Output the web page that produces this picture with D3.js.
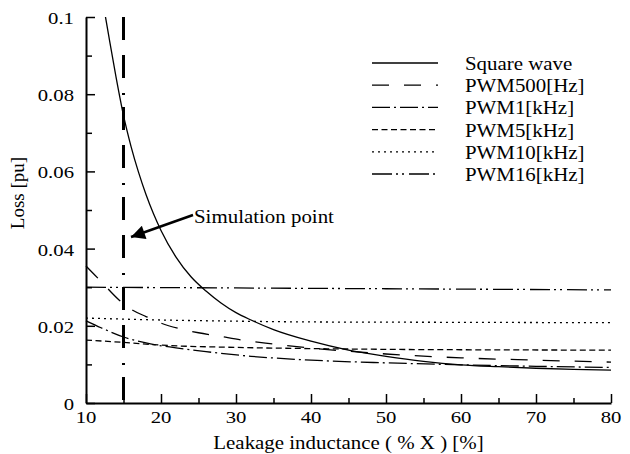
<!DOCTYPE html>
<meta charset="utf-8">
<html>
<head>
<title>Loss vs leakage inductance</title>
<style>
  body { margin: 0; background: #fff; }
</style>
</head>
<body>
<div id="chart"></div>
<script src="https://d3js.org/d3.v7.min.js"></script>
<script>

// data: [leakage inductance %, loss pu]
var squareWave = [[12.6,0.100],[13,0.0955],[14,0.0845],[15,0.0745],[16,0.0665],[17,0.0598],[18,0.0540],
  [19,0.0490],[20,0.0447],[22,0.0378],[24,0.0327],[26,0.0290],[28,0.0259],[30,0.0234],[32,0.0215],[35,0.0190],
  [40,0.0160],[45,0.0137],[50,0.0121],[55,0.0108],[60,0.0099],[65,0.0094],[70,0.0090],[75,0.0087],[80,0.0085]];
var pwm500 = [[10,0.0355],[12,0.0315],[14.4,0.0267],[16,0.0243],[18,0.0224],[20,0.0207],[22.6,0.0192],
  [25,0.0182],[27.5,0.0174],[31.5,0.0161],[35,0.0153],[40,0.0142],[45,0.0134],[50,0.0127],[60,0.0117],
  [70,0.0111],[80,0.0106]];
var pwm1k = [[10,0.0213],[12,0.0195],[15,0.0171],[18.6,0.0153],[22,0.0143],[26,0.0133],[32,0.0121],
  [40,0.0111],[50,0.0104],[60,0.0099],[70,0.0095],[80,0.0092]];
var pwm5k = [[10,0.0163],[15,0.0157],[20,0.0150],[30,0.0144],[40,0.0141],[50,0.0139],[60,0.0138],[80,0.0137]];
var pwm10k = [[10,0.0220],[20,0.0215],[30,0.0212],[40,0.0210],[60,0.0209],[80,0.0208]];
var pwm16k = [[10,0.0300],[30,0.0298],[50,0.0296],[80,0.0293]];

var seriesNames = ["Square wave", "PWM500[Hz]", "PWM1[kHz]", "PWM5[kHz]", "PWM10[kHz]", "PWM16[kHz]"];
var seriesData = [squareWave, pwm500, pwm1k, pwm5k, pwm10k, pwm16k];
var dashes = [null, "17,15", "18,4,2,4", "6,3.5", "2,4", "20,4,2,4,2,5"];

var xTicks = [10, 20, 30, 40, 50, 60, 70, 80];
var yTicks = [0, 0.02, 0.04, 0.06, 0.08, 0.1];
var yTickLabels = ["0", "0.02", "0.04", "0.06", "0.08", "0.1"];
var simPoint = 15;

var font = "Liberation Serif";

var margin = {top: 17, right: 19, bottom: 51, left: 86},
    width = 630 - margin.left - margin.right,
    height = 454 - margin.top - margin.bottom;

var svg = d3.select("#chart")
  .append("svg")
    .attr("width", 630)
    .attr("height", 454)
  .append("g")
    .attr("transform", "translate(" + margin.left + "," + margin.top + ")");

var x = d3.scaleLinear().domain([10, 80]).range([0, width]);
var y = d3.scaleLinear().domain([0, 0.1]).range([height, 0]);

// minor ticks
svg.append("g")
  .attr("transform", "translate(0," + height + ")")
  .call(d3.axisBottom(x).tickValues(d3.range(15, 80, 10)).tickSize(-5).tickFormat(""))
  .call(function(g) { g.select(".domain").remove(); });
svg.append("g")
  .call(d3.axisLeft(y).tickValues(d3.range(0.01, 0.1, 0.02)).tickSize(-6).tickFormat(""))
  .call(function(g) { g.select(".domain").remove(); });

// major ticks + axis lines
svg.append("g")
  .attr("transform", "translate(0," + height + ")")
  .call(d3.axisBottom(x).tickValues(xTicks).tickSizeInner(-9).tickSizeOuter(0).tickFormat(""));
svg.append("g")
  .call(d3.axisLeft(y).tickValues(yTicks).tickSizeInner(-9).tickSizeOuter(0).tickFormat(""));
svg.selectAll(".domain").attr("stroke-width", 2);
svg.selectAll(".tick line").attr("stroke-width", 1.5);

// tick labels (glyphs in the picture are a bit wide)
svg.append("g").selectAll("text")
  .data(xTicks)
  .enter().append("text")
    .attr("transform", function(d) { return "translate(" + x(d) + "," + (height + 20) + ") scale(1.22,1)"; })
    .attr("text-anchor", "middle")
    .attr("font-family", font)
    .attr("font-size", 17)
    .text(function(d) { return d; });

svg.append("g").selectAll("text")
  .data(yTicks)
  .enter().append("text")
    .attr("transform", function(d) { return "translate(-12," + (y(d) + 7) + ") scale(1.22,1)"; })
    .attr("text-anchor", "end")
    .attr("font-family", font)
    .attr("font-size", 17)
    .text(function(d, i) { return yTickLabels[i]; });

// axis titles
svg.append("text")
  .attr("transform", "translate(" + (width / 2) + "," + (height + 46) + ") scale(1.1,1)")
  .attr("text-anchor", "middle")
  .attr("font-family", font)
  .attr("font-size", 19)
  .text("Leakage inductance ( % X ) [%]");

svg.append("text")
  .attr("transform", "translate(-62," + (height / 2 - 17) + ") rotate(-90)")
  .attr("text-anchor", "middle")
  .attr("font-family", font)
  .attr("font-size", 19)
  .text("Loss [pu]");

// curves
var line = d3.line()
  .x(function(d) { return x(d[0]); })
  .y(function(d) { return y(d[1]); })
  .curve(d3.curveMonotoneX);

svg.append("g").selectAll("path")
  .data(seriesData)
  .enter().append("path")
    .attr("d", line)
    .attr("fill", "none")
    .attr("stroke", "black")
    .attr("stroke-width", 1.3)
    .attr("stroke-dasharray", function(d, i) { return dashes[i]; });

// simulation point marker
svg.append("line")
  .attr("x1", x(simPoint)).attr("x2", x(simPoint))
  .attr("y1", y(0.1)).attr("y2", y(0))
  .attr("stroke", "black")
  .attr("stroke-width", 3)
  .attr("stroke-dasharray", "23,15,23,15,2,12");

svg.append("defs").append("marker")
  .attr("id", "head")
  .attr("viewBox", "0 0 10 10")
  .attr("refX", 10).attr("refY", 5)
  .attr("markerWidth", 7.2).attr("markerHeight", 5.6)
  .attr("markerUnits", "strokeWidth")
  .attr("orient", "auto")
  .append("path")
    .attr("d", "M0,0L10,5L0,10z")
    .attr("fill", "black");

svg.append("line")
  .attr("x1", 107).attr("y1", 198)
  .attr("x2", 45).attr("y2", 220)
  .attr("stroke", "black")
  .attr("stroke-width", 2.5)
  .attr("marker-end", "url(#head)");

svg.append("text")
  .attr("transform", "translate(108,206) scale(1.1,1)")
  .attr("font-family", font)
  .attr("font-size", 19)
  .text("Simulation point");

// legend
var legend = svg.append("g").selectAll("g")
  .data(seriesNames)
  .enter().append("g")
    .attr("transform", function(d, i) { return "translate(286," + (46 + i * 22.2) + ")"; });

legend.append("line")
  .attr("x1", 0).attr("x2", 66)
  .attr("stroke", "black")
  .attr("stroke-width", 1.3)
  .attr("stroke-dasharray", function(d, i) { return dashes[i]; });

legend.append("text")
  .attr("transform", "translate(93,7) scale(1.1,1)")
  .attr("font-family", font)
  .attr("font-size", 19)
  .text(function(d) { return d; });

</script>
</body>
</html>
